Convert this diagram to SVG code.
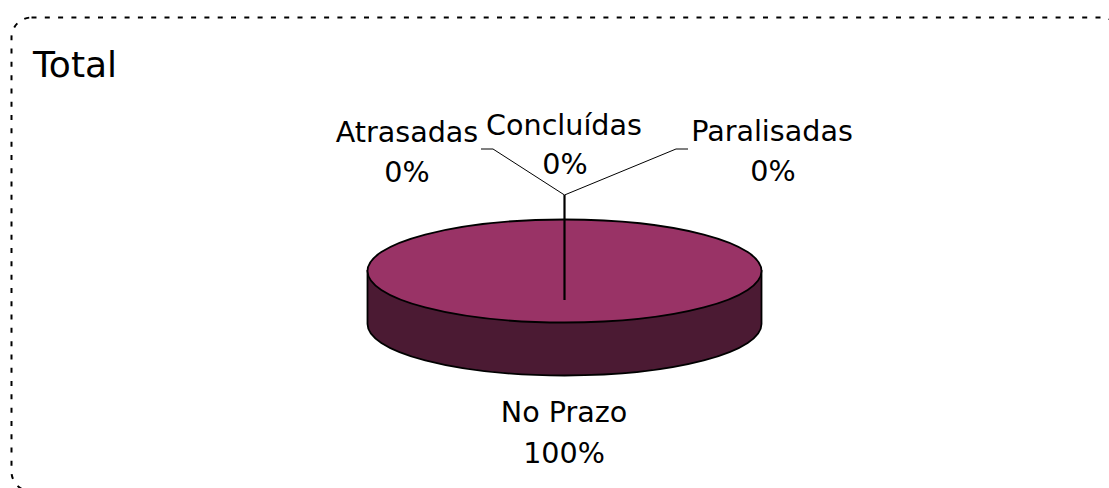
<svg xmlns="http://www.w3.org/2000/svg" width="1109" height="488" viewBox="0 0 1109 488">
<style>
.lbl{font-family:"DejaVu Sans","Liberation Sans",sans-serif;font-size:28.6px;fill:#000;text-anchor:middle}
.ttl{font-family:"DejaVu Sans","Liberation Sans",sans-serif;font-size:36px;fill:#000}
.lead{stroke:#000;stroke-width:1;fill:none}
</style>
<rect width="1109" height="488" fill="#fff"/>
<rect id="frame" x="11.5" y="17.5" width="1110" height="474" rx="20" ry="20" fill="none" stroke="#000" stroke-width="2" stroke-dasharray="5 8.3"/>
<text class="ttl" x="33" y="77">Total</text>
<g id="pie">
<path d="M367.5,271 L367.5,324 A197,51.5 0 0 0 761.5,324 L761.5,271 Z" fill="#4b1a33" stroke="#000" stroke-width="1.8"/>
<ellipse cx="564.5" cy="271" rx="197" ry="51.5" fill="#993366" stroke="#000" stroke-width="1.8"/>
</g>
<g id="connectors">
<line x1="564.5" y1="195" x2="564.5" y2="300" stroke="#000" stroke-width="2.2"/>
<polyline class="lead" points="481,149 493,149 564.5,195"/>
<polyline class="lead" points="688,149 676,149 564.5,195"/>
</g>
<g id="atrasadas">
<text class="lbl" x="407" y="142">Atrasadas</text>
<text class="lbl" x="407" y="182">0%</text>
</g>
<g id="concluidas">
<text class="lbl" x="564" y="135">Concluídas</text>
<text class="lbl" x="565" y="174">0%</text>
</g>
<g id="paralisadas">
<text class="lbl" x="772" y="141">Paralisadas</text>
<text class="lbl" x="773" y="181">0%</text>
</g>
<g id="noprazo">
<text class="lbl" x="564" y="422">No Prazo</text>
<text class="lbl" x="564" y="463">100%</text>
</g>
</svg>
